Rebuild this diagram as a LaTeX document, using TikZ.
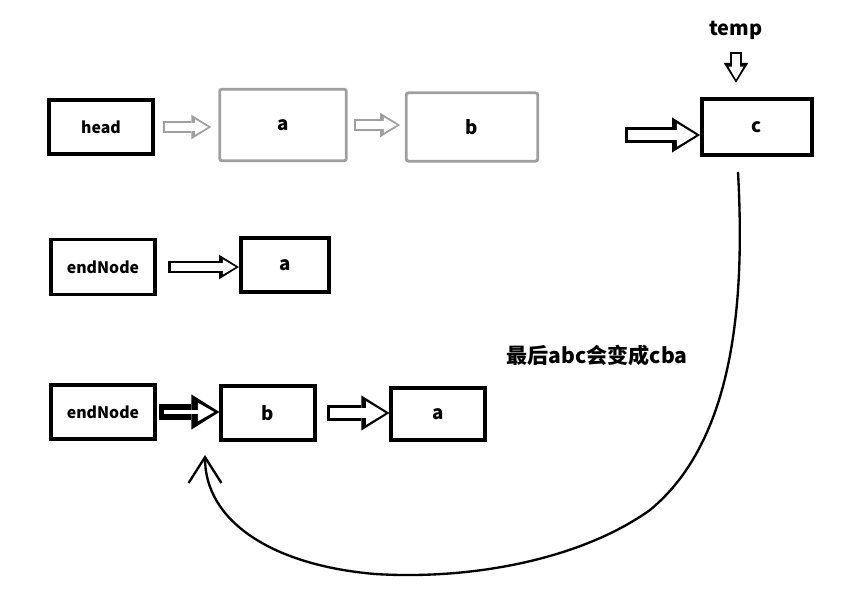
\documentclass[tikz,border=0pt]{standalone}
\usepackage{fontspec}
\setmainfont{Noto Sans CJK SC}
\usetikzlibrary{positioning,arrows.meta}

\begin{document}
\begin{tikzpicture}[x=0.03cm, y=-0.03cm, font=\bfseries\fontsize{13.5}{15}\selectfont,
    box/.style={draw, line width=3.2pt, inner sep=0pt},
    oldbox/.style={draw=gray!75, line width=2.4pt, rounded corners=2pt, inner sep=0pt},
    letter/.style={font=\bfseries\fontsize{16}{18}\selectfont},
    hollow/.style={line width=13pt, -{Triangle[length=24pt, width=30pt, line width=0pt]},
      postaction={draw=white, line width=8pt, shorten >=3.4pt, shorten <=2.5pt,
        -{Triangle[length=16.5pt, width=20pt, line width=0pt]}}},
    hollowheavy/.style={line width=13pt, -{Triangle[length=24pt, width=30pt, line width=0pt]},
      postaction={draw=white, line width=4pt, shorten >=4.5pt, shorten <=4pt,
        -{Triangle[length=14pt, width=16pt, line width=0pt]}}},
    hollowsmall/.style={line width=10pt, -{Triangle[length=17pt, width=21pt, line width=0pt]},
      postaction={draw=white, line width=6pt, shorten >=2.8pt, shorten <=2pt,
        -{Triangle[length=11pt, width=13pt, line width=0pt]}}}]
    \useasboundingbox (0,0) rectangle (863,594);

    % first row: head -> a -> b, and c with temp
    \node[box, minimum width=3.1cm, minimum height=1.6cm] (head) at (101,127) {head};
    \node[oldbox, letter, minimum width=3.8cm, minimum height=2.15cm] (a1) at (283,125) {a};
    \node[oldbox, letter, minimum width=3.95cm, minimum height=2.05cm] (b1) at (472,127) {b};
    \node[box, letter, minimum width=3.3cm, minimum height=1.7cm] (c) at (757,127) {c};
    \node[letter, font=\bfseries\fontsize{17}{19}\selectfont] (temp) at (736,30) {temp};
    \coordinate (cin) at (625,135);
    \draw[hollowsmall, color=gray!75] ([xshift=7pt]head.east) -- ([xshift=-6pt]head.east -| a1.west);
    \draw[hollowsmall, color=gray!75] ([xshift=5pt]a1.east) -- ([xshift=-4pt]a1.east -| b1.west);
    \draw[hollow] (cin) -- (cin -| c.west);
    \draw[hollowsmall] ([yshift=-7pt]temp.south) -- ([yshift=12pt]temp.south |- c.north);

    % second row
    \node[box, minimum width=3.1cm, minimum height=1.65cm] (end1) at (103,267) {endNode};
    \node[box, letter, minimum width=2.65cm, minimum height=1.6cm] (a2) at (285,265) {a};
    \draw[hollowsmall] ([xshift=10pt]end1.east) -- (end1.east -| a2.west);

    \node[font=\bfseries\fontsize{18}{20}\selectfont] (note) at (597,355) {最后abc会变成cba};

    % third row
    \node[box, minimum width=3.1cm, minimum height=1.6cm] (end2) at (103,412) {endNode};
    \node[box, letter, minimum width=2.8cm, minimum height=1.6cm] (b2) at (268,413) {b};
    \node[box, letter, minimum width=2.8cm, minimum height=1.55cm] (a3) at (438,414) {a};
    \draw[hollowheavy] ([xshift=2pt]end2.east) -- (end2.east -| b2.west);
    \draw[hollow] ([xshift=9pt]b2.east) -- (b2.east -| a3.west);

    % c goes back in front of b
    \coordinate (tail) at (738,172);
    \coordinate (tip) at (205,455);
    \draw[line width=2pt, -{Straight Barb[length=22pt, width=28pt]}] (tail)
      .. controls (745,300) and (735,440) .. (650,510)
      .. controls (580,560) and (470,580) .. (375,574)
      .. controls (270,565) and (205,520) .. (tip);
  \end{tikzpicture}
\end{document}
